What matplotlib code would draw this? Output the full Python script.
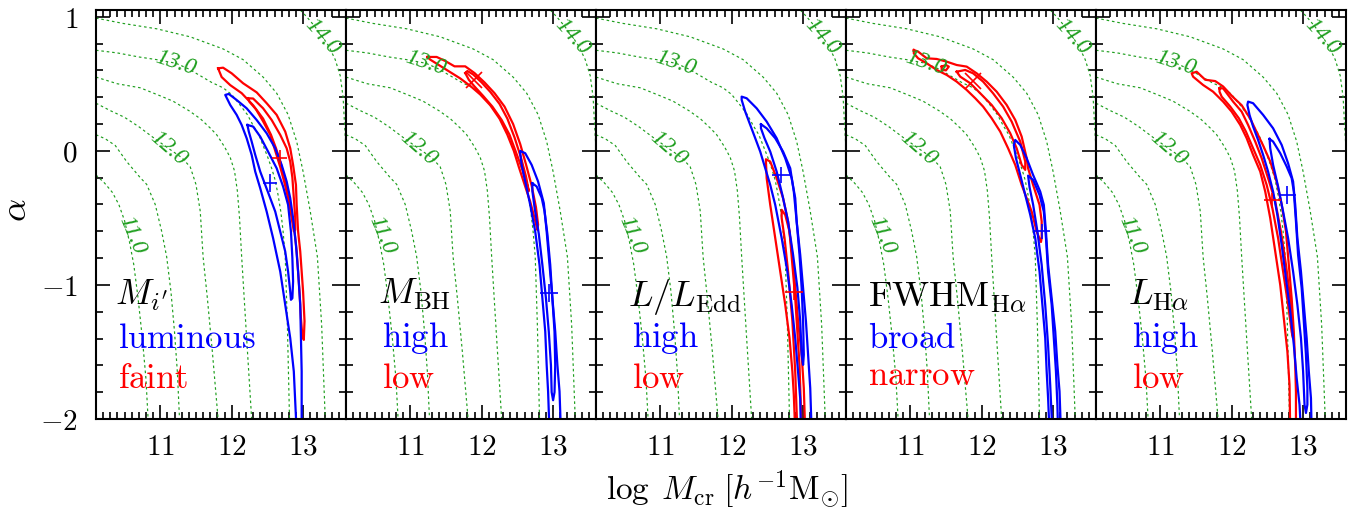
import matplotlib
matplotlib.use("Agg")
import matplotlib.pyplot as plt
from matplotlib.ticker import MultipleLocator

plt.rcParams["mathtext.fontset"] = "cm"
plt.rcParams["font.family"] = ["DejaVu Serif"]

GREEN = "#1f9f1f"
BLUE = "#0000ff"
RED = "#ff0000"

# ---- iso-mass curves, identical in every panel: (log M_cr, alpha) ----
iso_110 = [(10.10, -0.18), (10.22, -0.24), (10.33, -0.31), (10.42, -0.40), (10.50, -0.52),
           (10.57, -0.68), (10.63, -0.85), (10.69, -1.10), (10.75, -1.40), (10.80, -1.70), (10.83, -2.00)]
iso_115 = [(10.10, 0.12), (10.23, 0.09), (10.37, 0.04), (10.53, -0.08), (10.72, -0.20), (10.81, -0.25),
           (10.93, -0.40), (11.02, -0.60), (11.09, -0.79), (11.15, -1.05), (11.20, -1.35), (11.24, -1.65),
           (11.27, -2.00)]
iso_120 = [(10.10, 0.355), (10.30, 0.30), (10.50, 0.25), (10.70, 0.18), (10.90, 0.10), (11.11, 0.02),
           (11.30, -0.05), (11.42, -0.12), (11.50, -0.25), (11.56, -0.45), (11.60, -0.79), (11.66, -1.10),
           (11.73, -1.50), (11.81, -2.00)]
iso_125 = [(10.10, 0.55), (10.40, 0.50), (10.72, 0.47), (11.00, 0.41), (11.18, 0.37), (11.40, 0.30),
           (11.56, 0.24), (11.70, 0.17), (11.79, 0.12), (11.90, 0.03), (11.98, -0.05), (12.04, -0.15),
           (12.08, -0.30), (12.11, -0.50), (12.14, -0.79), (12.21, -1.40), (12.28, -2.00)]
iso_130 = [(10.10, 0.75), (10.40, 0.73), (10.70, 0.70), (10.95, 0.68), (11.22, 0.653), (11.40, 0.61),
           (11.56, 0.56), (11.72, 0.51), (11.88, 0.47), (12.00, 0.42), (12.12, 0.34), (12.22, 0.27),
           (12.30, 0.19), (12.38, 0.12), (12.44, 0.04), (12.50, -0.04), (12.56, -0.13), (12.61, -0.22),
           (12.65, -0.33), (12.69, -0.46), (12.72, -0.60), (12.75, -0.79), (12.78, -1.30), (12.81, -2.00)]
iso_135 = [(10.10, 0.99), (10.48, 0.95), (10.95, 0.91), (11.42, 0.85), (11.88, 0.76), (12.16, 0.68),
           (12.44, 0.55), (12.63, 0.43), (12.79, 0.27), (12.91, 0.07), (13.00, -0.155), (13.10, -0.45),
           (13.20, -0.79), (13.26, -1.30), (13.31, -2.00)]
iso_140 = [(12.96, 1.05), (13.05, 1.00), (13.16, 0.93), (13.26, 0.86), (13.36, 0.78), (13.45, 0.68),
           (13.52, 0.56), (13.56, 0.40), (13.58, 0.20), (13.60, 0.02)]
iso_curves = [iso_110, iso_115, iso_120, iso_125, iso_130, iso_135, iso_140]

iso_label_text = ["11.0", "12.0", "13.0", "14.0"]
iso_label_x = [10.60, 11.11, 11.22, 13.26]
iso_label_y = [-0.63, 0.02, 0.653, 0.85]
iso_label_rot = [-67, -41, -18, -48]

# ---- panel 1: M_i' ----
p1_red_outer = [(11.81, 0.615), (11.88, 0.62), (12.00, 0.578), (12.16, 0.504), (12.35, 0.436), (12.49, 0.355),
                (12.63, 0.268), (12.75, 0.143), (12.82, 0.019), (12.86, -0.105), (12.90, -0.254), (12.91, -0.403),
                (12.93, -0.60), (12.96, -0.75), (13.00, -1.05), (13.02, -1.27), (13.01, -1.41), (12.99, -1.38),
                (12.97, -1.25), (12.95, -1.05), (12.93, -0.90), (12.91, -0.75), (12.88, -0.60), (12.82, -0.42),
                (12.75, -0.22), (12.68, -0.08), (12.62, 0.02), (12.55, 0.12), (12.44, 0.24), (12.30, 0.34),
                (12.14, 0.43), (11.98, 0.49), (11.86, 0.55), (11.81, 0.615)]
p1_red_inner = [(12.23, 0.392), (12.30, 0.39), (12.44, 0.317), (12.56, 0.230), (12.68, 0.119), (12.77, 0.019),
                (12.82, -0.08), (12.85, -0.20), (12.87, -0.35), (12.89, -0.50), (12.89, -0.59), (12.87, -0.60),
                (12.85, -0.53), (12.81, -0.40), (12.75, -0.26), (12.68, -0.12), (12.61, 0.00), (12.54, 0.12),
                (12.44, 0.22), (12.34, 0.31), (12.25, 0.365), (12.23, 0.392)]
p1_blue_outer = [(12.91, -2.1), (12.87, -1.645), (12.82, -1.397), (12.75, -1.148), (12.68, -0.90), (12.58, -0.651),
                 (12.49, -0.453), (12.40, -0.279), (12.33, -0.155), (12.28, -0.03), (12.21, 0.094), (12.14, 0.193),
                 (12.07, 0.268), (11.98, 0.342), (11.91, 0.417), (11.96, 0.424), (12.07, 0.379), (12.21, 0.317),
                 (12.35, 0.230), (12.49, 0.131), (12.61, 0.019), (12.70, -0.105), (12.77, -0.229), (12.82, -0.353),
                 (12.86, -0.502), (12.90, -0.701), (12.93, -0.900), (12.96, -1.148), (12.97, -1.397),
                 (12.98, -1.645), (12.98, -2.1)]
p1_blue_inner = [(12.22, 0.193), (12.30, 0.181), (12.40, 0.106), (12.51, -0.006), (12.63, -0.130), (12.72, -0.266),
                 (12.79, -0.403), (12.83, -0.602), (12.85, -0.80), (12.86, -0.974), (12.85, -1.099), (12.83, -1.111),
                 (12.82, -1.049), (12.79, -0.90), (12.75, -0.751), (12.68, -0.602), (12.61, -0.453),
                 (12.54, -0.353), (12.47, -0.254), (12.40, -0.155), (12.33, -0.030), (12.28, 0.069), (12.24, 0.143),
                 (12.22, 0.193)]
p1_red_fit = (12.67, -0.05, 0.10, 0.055)
p1_blue_fit = (12.54, -0.24, 0.10, 0.07)

# ---- panel 2: M_BH ----
p2_red_outer = [(11.24, 0.70), (11.37, 0.70), (11.49, 0.67), (11.62, 0.63), (11.77, 0.63), (11.90, 0.58),
                (12.04, 0.51), (12.18, 0.43), (12.32, 0.33), (12.44, 0.20), (12.54, 0.05), (12.62, -0.10),
                (12.70, -0.26), (12.76, -0.42), (12.79, -0.55), (12.78, -0.59), (12.74, -0.50), (12.68, -0.38),
                (12.60, -0.25), (12.52, -0.12), (12.45, 0.00), (12.36, 0.12), (12.25, 0.24), (12.12, 0.34),
                (11.98, 0.42), (11.85, 0.48), (11.70, 0.54), (11.55, 0.59), (11.40, 0.64), (11.28, 0.68),
                (11.24, 0.70)]
p2_red_inner = [(11.77, 0.58), (11.80, 0.595), (11.88, 0.57), (12.00, 0.51), (12.12, 0.44), (12.25, 0.35),
                (12.36, 0.24), (12.46, 0.10), (12.55, -0.05), (12.62, -0.19), (12.66, -0.30), (12.64, -0.26),
                (12.57, -0.14), (12.48, -0.01), (12.39, 0.12), (12.28, 0.23), (12.15, 0.33), (12.02, 0.41),
                (11.90, 0.48), (11.82, 0.53), (11.77, 0.58)]
p2_blue_outer = [(12.95, -2.1), (12.93, -1.794), (12.91, -1.596), (12.89, -1.347), (12.85, -1.099), (12.81, -0.85),
                 (12.75, -0.602), (12.68, -0.403), (12.61, -0.229), (12.56, -0.105), (12.54, -0.018),
                 (12.54, -0.001), (12.61, -0.018), (12.70, -0.105), (12.79, -0.229), (12.87, -0.39),
                 (12.91, -0.602), (12.95, -0.85), (12.99, -1.099), (13.03, -1.347), (13.06, -1.596),
                 (13.09, -1.794), (13.11, -2.1)]
p2_blue_inner = [(12.71, -0.242), (12.77, -0.266), (12.84, -0.35), (12.88, -0.45), (12.92, -0.62), (12.96, -0.85),
                 (12.99, -1.10), (13.02, -1.35), (13.03, -1.60), (13.02, -1.80), (13.00, -1.86), (12.98, -1.80),
                 (12.97, -1.60), (12.94, -1.35), (12.90, -1.10), (12.85, -0.85), (12.80, -0.62), (12.74, -0.42),
                 (12.71, -0.30), (12.71, -0.242)]
p2_red_fit = (11.89, 0.53, 0.0, 0.0)
p2_blue_fit = (12.94, -1.06, 0.13, 0.07)

# ---- panel 3: L/L_Edd ----
p3_blue_outer = [(12.97, -2.1), (12.96, -1.85), (12.93, -1.65), (12.89, -1.40), (12.84, -1.15), (12.78, -0.90),
                 (12.70, -0.65), (12.61, -0.403), (12.54, -0.254), (12.47, -0.13), (12.40, -0.006), (12.33, 0.094),
                 (12.26, 0.193), (12.19, 0.292), (12.14, 0.38), (12.14, 0.404), (12.21, 0.392), (12.35, 0.317),
                 (12.49, 0.218), (12.63, 0.094), (12.75, -0.055), (12.84, -0.204), (12.89, -0.353), (12.91, -0.527),
                 (12.96, -0.776), (13.00, -1.024), (13.04, -1.272), (13.07, -1.521), (13.10, -1.77), (13.12, -2.1)]
p3_blue_inner = [(12.41, 0.198), (12.49, 0.168), (12.61, 0.094), (12.72, -0.006), (12.82, -0.13), (12.87, -0.304),
                 (12.91, -0.527), (12.95, -0.776), (12.98, -1.024), (13.00, -1.272), (13.01, -1.521),
                 (13.00, -1.596), (12.98, -1.52), (12.96, -1.27), (12.92, -1.02), (12.86, -0.776), (12.79, -0.527),
                 (12.71, -0.329), (12.63, -0.155), (12.54, -0.006), (12.46, 0.094), (12.41, 0.168), (12.41, 0.198)]
p3_red_outer = [(12.89, -2.1), (12.87, -1.819), (12.85, -1.645), (12.81, -1.397), (12.75, -1.148), (12.68, -0.90),
                (12.61, -0.651), (12.54, -0.403), (12.49, -0.204), (12.48, -0.08), (12.48, -0.063), (12.54, -0.08),
                (12.63, -0.204), (12.72, -0.353), (12.79, -0.527), (12.85, -0.776), (12.89, -1.024), (12.93, -1.272),
                (12.98, -1.521), (13.01, -1.77), (13.03, -2.1)]
p3_red_inner = [(12.92, -2.1), (12.89, -1.65), (12.85, -1.27), (12.79, -0.90), (12.74, -0.65), (12.70, -0.50),
                (12.70, -0.44), (12.75, -0.478), (12.81, -0.602), (12.85, -0.85), (12.89, -1.10), (12.92, -1.35),
                (12.95, -1.60), (12.98, -2.1)]
p3_red_fit = (12.87, -1.05, 0.13, 0.06)
p3_blue_fit = (12.69, -0.18, 0.12, 0.06)

# ---- panel 4: FWHM_Halpha ----
p4_red_outer = [(11.05, 0.752), (11.11, 0.74), (11.23, 0.69), (11.37, 0.685), (11.51, 0.665), (11.65, 0.64),
                (11.79, 0.628), (11.93, 0.578), (12.07, 0.516), (12.21, 0.441), (12.35, 0.342), (12.47, 0.23),
                (12.56, 0.106), (12.63, -0.055), (12.65, -0.13), (12.72, -0.254), (12.81, -0.403), (12.84, -0.527),
                (12.84, -0.651), (12.83, -0.68), (12.77, -0.602), (12.70, -0.453), (12.63, -0.353), (12.56, -0.254),
                (12.47, -0.105), (12.37, 0.019), (12.26, 0.143), (12.14, 0.243), (12.02, 0.33), (11.91, 0.392),
                (11.79, 0.454), (11.65, 0.516), (11.51, 0.566), (11.37, 0.603), (11.23, 0.653), (11.11, 0.69),
                (11.05, 0.727), (11.05, 0.752)]
p4_red_inner = [(11.65, 0.59), (11.77, 0.603), (11.88, 0.578), (12.02, 0.516), (12.16, 0.429), (12.30, 0.33),
                (12.42, 0.218), (12.54, 0.069), (12.61, -0.08), (12.61, -0.142), (12.56, -0.105), (12.49, 0.019),
                (12.40, 0.131), (12.28, 0.243), (12.14, 0.342), (11.98, 0.429), (11.84, 0.504), (11.70, 0.553),
                (11.65, 0.59)]
p4_red_island = [(11.44, 0.628), (11.50, 0.64), (11.54, 0.628), (11.50, 0.60), (11.44, 0.605), (11.44, 0.628)]
p4_blue_outer = [(12.95, -2.1), (12.93, -1.844), (12.91, -1.645), (12.89, -1.397), (12.85, -1.148), (12.81, -0.90),
                 (12.75, -0.651), (12.68, -0.477), (12.61, -0.329), (12.54, -0.18), (12.48, -0.055), (12.45, 0.044),
                 (12.47, 0.081), (12.54, 0.044), (12.63, -0.055), (12.72, -0.18), (12.82, -0.304), (12.87, -0.403),
                 (12.90, -0.602), (12.93, -0.85), (12.98, -1.099), (13.03, -1.347), (13.06, -1.596), (13.09, -1.794),
                 (13.11, -2.1)]
p4_blue_inner = [(12.99, -2.1), (12.96, -1.75), (12.93, -1.45), (12.89, -1.15), (12.84, -0.85), (12.78, -0.60),
                 (12.72, -0.40), (12.67, -0.27), (12.65, -0.185), (12.72, -0.217), (12.81, -0.329), (12.87, -0.453),
                 (12.90, -0.651), (12.93, -0.90), (12.98, -1.148), (13.01, -1.397), (13.04, -1.645),
                 (13.06, -1.893), (13.07, -2.1)]
p4_red_fit = (11.88, 0.52, 0.0, 0.0)
p4_blue_fit = (12.84, -0.60, 0.12, 0.055)

# ---- panel 5: L_Halpha ----
p5_red_outer = [(12.82, -2.1), (12.81, -1.745), (12.78, -1.496), (12.73, -1.248), (12.68, -1.0), (12.61, -0.751),
                (12.54, -0.502), (12.47, -0.304), (12.40, -0.155), (12.30, -0.03), (12.21, 0.094), (12.12, 0.193),
                (12.00, 0.292), (11.88, 0.367), (11.74, 0.441), (11.60, 0.491), (11.46, 0.553), (11.44, 0.578),
                (11.51, 0.59), (11.63, 0.53), (11.77, 0.52), (11.88, 0.48), (12.02, 0.40), (12.14, 0.34),
                (12.26, 0.24), (12.35, 0.14), (12.44, 0.04), (12.54, -0.08), (12.63, -0.23), (12.70, -0.40),
                (12.76, -0.60), (12.80, -0.85), (12.84, -1.10), (12.87, -1.35), (12.89, -1.60), (12.90, -1.80),
                (12.90, -2.1)]
p5_red_inner = [(11.83, 0.466), (11.88, 0.466), (12.02, 0.367), (12.14, 0.292), (12.23, 0.193), (12.33, 0.069),
                (12.42, -0.055), (12.51, -0.204), (12.61, -0.378), (12.69, -0.602), (12.76, -0.85), (12.82, -1.099),
                (12.85, -1.298), (12.86, -1.40), (12.84, -1.35), (12.79, -1.148), (12.72, -0.90), (12.65, -0.651),
                (12.57, -0.428), (12.49, -0.254), (12.40, -0.105), (12.30, 0.019), (12.20, 0.143), (12.10, 0.243),
                (11.98, 0.33), (11.86, 0.404), (11.83, 0.441), (11.83, 0.466)]
p5_blue_outer = [(12.97, -2.1), (12.95, -1.893), (12.91, -1.695), (12.87, -1.446), (12.82, -1.198), (12.76, -0.95),
                 (12.70, -0.701), (12.64, -0.478), (12.58, -0.304), (12.51, -0.155), (12.44, -0.03), (12.37, 0.081),
                 (12.30, 0.181), (12.25, 0.268), (12.22, 0.342), (12.23, 0.367), (12.30, 0.355), (12.44, 0.268),
                 (12.58, 0.168), (12.70, 0.044), (12.79, -0.093), (12.86, -0.229), (12.89, -0.403), (12.92, -0.651),
                 (12.97, -0.90), (13.01, -1.148), (13.05, -1.397), (13.08, -1.645), (13.11, -1.844), (13.12, -2.1)]
p5_blue_inner = [(12.53, 0.089), (12.58, 0.069), (12.68, -0.018), (12.77, -0.117), (12.84, -0.204), (12.87, -0.304),
                 (12.90, -0.527), (12.93, -0.776), (12.98, -1.024), (13.01, -1.272), (13.04, -1.521), (13.06, -1.77),
                 (13.06, -1.893), (13.04, -1.955), (13.02, -1.893), (13.00, -1.645), (12.97, -1.397),
                 (12.92, -1.148), (12.86, -0.90), (12.79, -0.651), (12.72, -0.453), (12.65, -0.266), (12.58, -0.105),
                 (12.54, 0.019), (12.53, 0.089)]
p5_red_fit = (12.57, -0.37, 0.12, 0.055)
p5_blue_fit = (12.78, -0.33, 0.12, 0.07)

panel_titles = [r"$M_{i'}$", r"$M_{\rm BH}$", r"$L/L_{\rm Edd}$", r"${\rm FWHM}_{{\rm H}\alpha}$", r"$L_{{\rm H}\alpha}$"]
blue_words = ["luminous", "high", "high", "broad", "high"]
red_words = ["faint", "low", "low", "narrow", "low"]

red_curves = [[p1_red_outer, p1_red_inner], [p2_red_outer, p2_red_inner], [p3_red_outer, p3_red_inner],
              [p4_red_outer, p4_red_inner, p4_red_island], [p5_red_outer, p5_red_inner]]
blue_curves = [[p1_blue_outer, p1_blue_inner], [p2_blue_outer, p2_blue_inner], [p3_blue_outer, p3_blue_inner],
               [p4_blue_outer, p4_blue_inner], [p5_blue_outer, p5_blue_inner]]
red_fits = [p1_red_fit, p2_red_fit, p3_red_fit, p4_red_fit, p5_red_fit]
blue_fits = [p1_blue_fit, p2_blue_fit, p3_blue_fit, p4_blue_fit, p5_blue_fit]

# text placement in data units
title_x = [10.37, 10.55, 10.55, 10.41, 10.55]
title_y = [-1.15, -1.14, -1.16, -1.16, -1.15]
word_x = [10.41, 10.61, 10.61, 10.41, 10.61]
blue_y = [-1.47, -1.46, -1.46, -1.47, -1.46]
red_y = [-1.765, -1.77, -1.77, -1.745, -1.77]

fig, axes = plt.subplots(1, 5, figsize=(13.59, 5.14), dpi=100, sharey=True)
fig.subplots_adjust(left=0.0706, right=0.9904, bottom=0.1848, top=0.9805, wspace=0)

for i, ax in enumerate(axes):
    for c in iso_curves:
        xs, ys = zip(*c)
        ax.plot(xs, ys, color=GREEN, lw=0.85, ls=(0, (2.2, 2.4)))
    for t, lx, ly, rot in zip(iso_label_text, iso_label_x, iso_label_y, iso_label_rot):
        ax.text(lx, ly, t, color=GREEN, fontsize=17, family="Liberation Serif", style="italic",
                rotation=rot, rotation_mode="anchor", ha="center", va="center")

    for c in red_curves[i]:
        xs, ys = zip(*c)
        ax.plot(xs, ys, color=RED, lw=1.6)
    for c in blue_curves[i]:
        xs, ys = zip(*c)
        ax.plot(xs, ys, color=BLUE, lw=1.6)

    for (fx, fy, ex, ey), col in [(red_fits[i], RED), (blue_fits[i], BLUE)]:
        if ex == 0:
            ax.plot(fx, fy, marker="x", ms=11, mew=1.2, color=col)
        else:
            ax.errorbar(fx, fy, xerr=ex, yerr=ey, fmt="none", ecolor=col, elinewidth=1.2, capsize=0)

    ax.text(title_x[i], title_y[i], panel_titles[i], fontsize=26, va="baseline", ha="left")
    ax.text(word_x[i], blue_y[i], r"$\mathrm{%s}$" % blue_words[i], fontsize=25, color=BLUE, va="baseline")
    ax.text(word_x[i], red_y[i], r"$\mathrm{%s}$" % red_words[i], fontsize=25, color=RED, va="baseline")

    ax.set_xlim(10.1, 13.6)
    ax.set_ylim(-2, 1.05)
    ax.set_xticks([11, 12, 13])
    ax.set_xticklabels(["$11$", "$12$", "$13$"])
    ax.xaxis.set_minor_locator(MultipleLocator(0.1))
    ax.yaxis.set_minor_locator(MultipleLocator(0.2))
    ax.tick_params(which="both", direction="in", top=True, right=True, width=1.2)
    ax.tick_params(which="major", length=10)
    ax.tick_params(which="minor", length=5)
    ax.tick_params(axis="x", labelsize=21, pad=10)
    ax.tick_params(axis="y", labelsize=21, pad=13)
    for s in ax.spines.values():
        s.set_linewidth(1.5)

axes[0].set_yticks([-2, -1, 0, 1])
axes[0].set_yticklabels(["$-2$", "$-1$", "$0$", "$1$"])

fig.text(16 / 1359, 1 - 210 / 514, r"$\alpha$", fontsize=26, rotation=90, ha="center", va="center")
fig.text(727 / 1359, 1 - 490 / 514, r"$\log\;M_{\rm cr}\;[h^{-1}{\rm M}_{\odot}]$",
         fontsize=24, ha="center", va="center")

fig.savefig("out.png", dpi=100)
